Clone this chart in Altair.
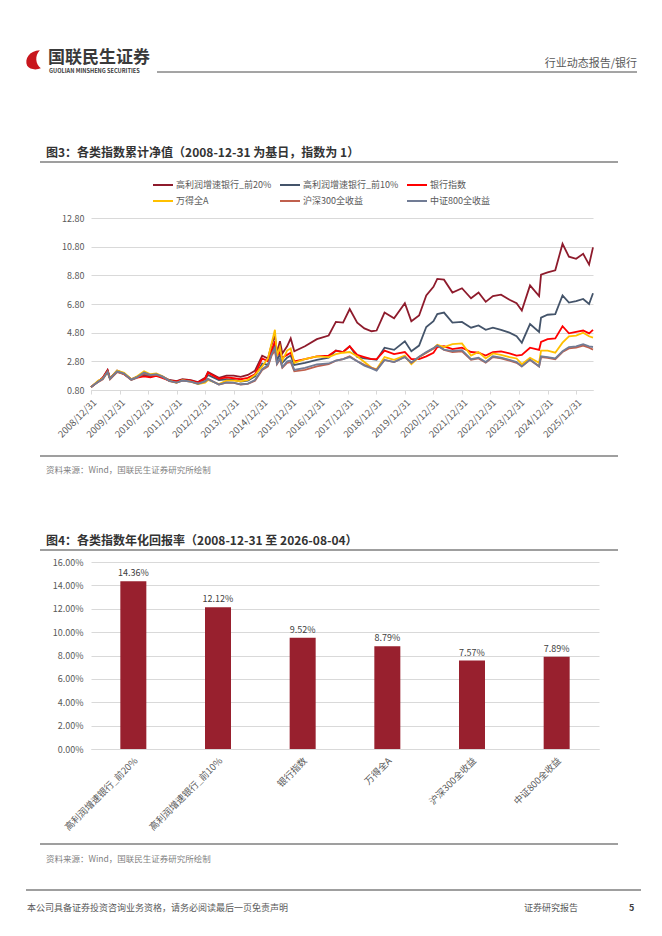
import altair as alt
import pandas as pd

FONT = "Noto Sans CJK SC"

# ---------------- data ----------------
series_names = ["高利润增速银行_前20%", "高利润增速银行_前10%", "银行指数",
                "万得全A", "沪深300全收益", "中证800全收益"]
series_colors = ["#8E1B2C", "#44546A", "#FF0000", "#FFC000", "#C0604D", "#717C95"]

dates = [
    "2008-12-31", "2009-03-31", "2009-05-31", "2009-07-31", "2009-08-31", "2009-11-30",
    "2010-02-28", "2010-05-31", "2010-07-31", "2010-11-10", "2011-01-31", "2011-04-15",
    "2011-06-30", "2011-09-30", "2011-12-31", "2012-03-15", "2012-06-30", "2012-09-30",
    "2012-12-31", "2013-02-05", "2013-06-25", "2013-09-30", "2013-12-31", "2014-03-31",
    "2014-06-30", "2014-09-30", "2014-12-31", "2015-03-15", "2015-04-30", "2015-06-12",
    "2015-07-08", "2015-08-15", "2015-09-15", "2015-11-15", "2015-12-31", "2016-02-15",
    "2016-06-30", "2016-11-30", "2017-04-30", "2017-07-31", "2017-10-31", "2018-01-24",
    "2018-04-30", "2018-07-31", "2018-10-31", "2019-01-03", "2019-04-15", "2019-08-15",
    "2019-12-31", "2020-03-23", "2020-06-30", "2020-09-30", "2020-12-31", "2021-02-18",
    "2021-05-15", "2021-08-31", "2021-12-31", "2022-04-26", "2022-07-31", "2022-10-31",
    "2023-01-31", "2023-05-15", "2023-08-31", "2023-11-30", "2024-02-05", "2024-05-20",
    "2024-09-13", "2024-10-08", "2024-12-31", "2025-04-08", "2025-07-10", "2025-09-30",
    "2025-12-31", "2026-03-31", "2026-06-15", "2026-08-04",
]

top20 = [1.00, 1.40, 1.65, 2.20, 1.62, 2.15, 1.95, 1.55, 1.70, 1.85, 1.75, 1.85,
         1.75, 1.50, 1.42, 1.55, 1.48, 1.35, 1.65, 2.05, 1.65, 1.80, 1.80, 1.72,
         1.85, 2.15, 3.20, 3.00, 3.95, 4.60, 3.40, 4.20, 3.35, 3.85, 4.40, 3.50,
         3.85, 4.35, 4.60, 5.55, 5.50, 6.45, 5.50, 5.10, 4.90, 4.95, 6.20, 5.80,
         6.85, 5.60, 6.00, 7.40, 8.00, 8.55, 8.50, 7.60, 7.90, 7.20, 7.60, 6.95,
         7.35, 7.45, 7.10, 6.85, 6.35, 8.10, 7.35, 8.85, 9.00, 9.15, 11.00, 10.10,
         9.95, 10.30, 9.55, 10.75]
top10 = [1.00, 1.38, 1.62, 2.15, 1.60, 2.12, 1.92, 1.52, 1.68, 1.85, 1.75, 1.85,
         1.72, 1.45, 1.38, 1.50, 1.42, 1.30, 1.55, 1.85, 1.50, 1.55, 1.50, 1.38,
         1.45, 1.75, 2.65, 2.55, 3.35, 3.90, 2.85, 3.30, 2.70, 3.05, 3.20, 2.55,
         2.70, 2.90, 3.05, 3.55, 3.45, 3.85, 3.10, 3.00, 2.95, 2.90, 3.75, 3.60,
         4.20, 3.50, 3.90, 5.20, 5.60, 6.10, 6.20, 5.50, 5.55, 5.15, 5.30, 5.00,
         5.15, 5.00, 4.80, 4.55, 4.10, 5.40, 4.85, 5.85, 6.05, 6.10, 7.40, 6.90,
         7.00, 7.15, 6.80, 7.55]
bank = [1.00, 1.40, 1.65, 2.15, 1.60, 2.10, 1.90, 1.55, 1.65, 1.75, 1.68, 1.78,
        1.65, 1.45, 1.40, 1.50, 1.45, 1.32, 1.60, 2.00, 1.58, 1.68, 1.62, 1.55,
        1.65, 1.90, 3.00, 2.80, 3.55, 4.20, 3.20, 3.45, 3.05, 3.25, 3.40, 2.80,
        2.95, 3.15, 3.20, 3.55, 3.45, 3.85, 3.25, 3.10, 2.95, 2.95, 3.55, 3.30,
        3.45, 2.95, 2.95, 3.15, 3.40, 3.80, 3.85, 3.65, 3.75, 3.45, 3.40, 3.20,
        3.45, 3.50, 3.35, 3.20, 3.25, 3.75, 3.60, 4.15, 4.35, 4.40, 5.25, 4.75,
        4.85, 4.95, 4.75, 5.00]
wind_a = [1.00, 1.45, 1.60, 2.05, 1.60, 2.15, 2.00, 1.55, 1.70, 2.10, 1.90, 1.95,
          1.78, 1.45, 1.30, 1.48, 1.38, 1.22, 1.32, 1.50, 1.22, 1.45, 1.45, 1.40,
          1.50, 1.85, 2.45, 3.00, 4.05, 5.00, 3.20, 3.80, 2.85, 3.55, 3.70, 2.70,
          2.95, 3.15, 3.10, 3.30, 3.40, 3.45, 3.15, 2.75, 2.35, 2.25, 3.10, 2.90,
          3.20, 2.60, 3.10, 3.40, 3.70, 3.95, 3.80, 4.00, 4.05, 3.20, 3.45, 3.00,
          3.35, 3.25, 3.10, 3.00, 2.60, 3.05, 2.70, 3.55, 3.55, 3.40, 4.10, 4.55,
          4.60, 4.80, 4.55, 4.45]
hs300 = [1.00, 1.35, 1.55, 2.05, 1.55, 2.05, 1.90, 1.50, 1.62, 1.95, 1.82, 1.85,
         1.72, 1.42, 1.32, 1.45, 1.38, 1.25, 1.42, 1.58, 1.18, 1.32, 1.30, 1.18,
         1.22, 1.45, 2.20, 2.45, 3.20, 3.55, 2.60, 2.95, 2.35, 2.70, 2.75, 2.10,
         2.20, 2.45, 2.60, 2.85, 2.95, 3.15, 2.80, 2.55, 2.35, 2.20, 2.90, 2.75,
         3.10, 2.70, 3.10, 3.40, 3.70, 3.90, 3.60, 3.45, 3.50, 2.90, 3.00, 2.70,
         3.10, 3.00, 2.85, 2.70, 2.45, 2.90, 2.45, 3.10, 3.05, 2.95, 3.45, 3.70,
         3.75, 3.90, 3.75, 3.62]
csi800 = [1.00, 1.38, 1.58, 2.08, 1.58, 2.10, 1.95, 1.52, 1.66, 2.02, 1.86, 1.90,
          1.75, 1.44, 1.32, 1.46, 1.38, 1.24, 1.40, 1.56, 1.18, 1.33, 1.32, 1.20,
          1.25, 1.50, 2.25, 2.55, 3.30, 3.75, 2.65, 3.00, 2.40, 2.80, 2.85, 2.20,
          2.35, 2.58, 2.65, 2.85, 2.95, 3.10, 2.80, 2.50, 2.30, 2.15, 2.90, 2.75,
          3.10, 2.72, 3.12, 3.45, 3.72, 3.90, 3.62, 3.52, 3.58, 2.95, 3.05, 2.75,
          3.15, 3.05, 2.90, 2.75, 2.45, 2.92, 2.45, 3.15, 3.10, 3.00, 3.50, 3.80,
          3.85, 4.00, 3.85, 3.80]

annual_ret = [14.36, 12.12, 9.52, 8.79, 7.57, 7.89]

nav_rows = []
for name, vals in zip(series_names, [top20, top10, bank, wind_a, hs300, csi800]):
    for d, v in zip(dates, vals):
        nav_rows.append({"date": d, "series": name, "value": v})
df_nav = pd.DataFrame(nav_rows)
df_nav["date"] = pd.to_datetime(df_nav["date"])

df_ret = pd.DataFrame({"name": series_names, "ret": annual_ret})

# page positions of the two plot areas (left, top)
LX, LY = 90, 217
BX, BY = 90, 561


def note(text, x, y, ox, oy, size=9, color="#595959", weight="normal", align="left"):
    return alt.Chart(pd.DataFrame({"t": [text]})).mark_text(
        align=align, baseline="alphabetic", fontSize=size, color=color,
        fontWeight=weight, font=FONT
    ).encode(x=alt.value(x - ox), y=alt.value(y - oy), text="t:N")


def hline(x1, x2, y, ox, oy, color="#404040", width=1.0):
    return alt.Chart(pd.DataFrame({"a": [0]})).mark_rule(color=color, strokeWidth=width).encode(
        x=alt.value(x1 - ox), x2=alt.value(x2 - ox), y=alt.value(y - oy))


logo_path = ("M0.6,-1 C-0.5,-0.95 -1,-0.1 -0.7,0.6 C-0.45,1 0.25,1.05 0.7,0.85 "
             "C0.15,0.45 0.05,-0.45 0.6,-1 Z")
logo = alt.Chart(pd.DataFrame({"a": [0]})).mark_point(
    shape=logo_path, filled=True, color="#C8161D", opacity=1, size=380
).encode(x=alt.value(33 - LX), y=alt.value(59 - LY))

# ---------------- figure 3: cumulative NAV ----------------
year_ticks = [alt.DateTime(year=y, month=12, date=31) for y in range(2008, 2026)]

lines = alt.Chart(df_nav).mark_line(strokeWidth=1.8).encode(
    x=alt.X("date:T", title=None,
            scale=alt.Scale(domain=[alt.DateTime(year=2008, month=12, date=31),
                                    alt.DateTime(year=2026, month=8, date=4)], nice=False),
            axis=alt.Axis(values=year_ticks, format="%Y/%m/%d", labelAngle=-45,
                          labelAlign="right", labelBaseline="top", labelOverlap=False,
                          grid=False, domainColor="#d9d9d9", tickColor="#d9d9d9",
                          tickSize=4, labelPadding=3, labelFontSize=9.5)),
    y=alt.Y("value:Q", title=None,
            scale=alt.Scale(domain=[0.8, 12.8], nice=False, zero=False),
            axis=alt.Axis(values=[0.8, 2.8, 4.8, 6.8, 8.8, 10.8, 12.8], format=".2f",
                          domain=False, ticks=False, gridColor="#d9d9d9",
                          labelPadding=7, labelFontSize=9)),
    color=alt.Color("series:N", sort=series_names,
                    scale=alt.Scale(domain=series_names, range=series_colors),
                    legend=alt.Legend(title=None, orient="none", legendX=61, legendY=-44,
                                      direction="horizontal", columns=3,
                                      symbolType="stroke", symbolSize=400,
                                      symbolStrokeWidth=2, labelFontSize=9,
                                      labelColor="#595959", labelFont=FONT,
                                      columnPadding=4, rowPadding=0, gridAlign="all",
                                      labelLimit=200, labelOffset=2)),
)

anchor = alt.Chart(pd.DataFrame({"a": [0]})).mark_rule(color="white", strokeWidth=1).encode(
    x=alt.value(8 - LX), x2=alt.value(9 - LX), y=alt.value(8 - LY))

top = alt.layer(
    anchor,
    logo,
    note("国联民生证券", 47, 61.5, LX, LY, size=17, color="#3A3A3A", weight="bold"),
    note("GUOLIAN MINSHENG SECURITIES", 48, 72, LX, LY, size=5.6, color="#3A3A3A", weight="bold"),
    hline(156, 636, 71, LX, LY, color="#4a4a4a"),
    note("行业动态报告/银行", 636, 66, LX, LY, size=11, color="#595959", align="right"),
    note("图3：各类指数累计净值（2008-12-31 为基日，指数为 1）", 45, 156, LX, LY,
         size=12, color="#333333", weight="bold"),
    hline(39, 617, 161, LX, LY, color="#404040", width=1.2),
    lines,
    hline(39, 617, 455, LX, LY, color="#404040", width=1.2),
    note("资料来源：Wind，国联民生证券研究所绘制", 45, 472, LX, LY, size=8.5, color="#7F7F7F"),
).properties(width=502, height=172)

# ---------------- figure 4: annualised return ----------------
bar_base = alt.Chart(df_ret).transform_calculate(
    label="format(datum.ret, '.2f') + '%'"
).encode(
    x=alt.X("name:N", sort=series_names, title=None,
            scale=alt.Scale(paddingInner=0, paddingOuter=0),
            axis=alt.Axis(labelAngle=-45, labelAlign="right", labelBaseline="top",
                          ticks=False, domainColor="#d9d9d9", labelPadding=7,
                          labelLimit=200, labelFontSize=9.3)),
    y=alt.Y("ret:Q", title=None, scale=alt.Scale(domain=[0, 16], nice=False),
            axis=alt.Axis(values=list(range(0, 17, 2)),
                          labelExpr="format(datum.value, '.2f') + '%'",
                          domain=False, ticks=False, gridColor="#d9d9d9",
                          labelPadding=8, labelFontSize=9)),
)
bars = bar_base.mark_bar(size=26, color="#98202E")
bar_labels = bar_base.mark_text(dy=-8, fontSize=9, color="#404040", font=FONT).encode(text="label:N")

bottom = alt.layer(
    note("图4：各类指数年化回报率（2008-12-31 至 2026-08-04）", 45, 544, BX, BY,
         size=12, color="#333333", weight="bold"),
    hline(39, 617, 549, BX, BY, color="#404040", width=1.2),
    bars,
    bar_labels,
    hline(39, 617, 843, BX, BY, color="#404040", width=1.2),
    note("资料来源：Wind，国联民生证券研究所绘制", 45, 860.5, BX, BY, size=8.5, color="#7F7F7F"),
    hline(25, 640, 889, BX, BY, color="#404040", width=1.2),
    note("本公司具备证券投资咨询业务资格，请务必阅读最后一页免责声明", 26, 909.5, BX, BY,
         size=9, color="#595959"),
    note("证券研究报告", 523, 909.5, BX, BY, size=9, color="#595959"),
    note("5", 628, 909.5, BX, BY, size=9, color="#404040", weight="bold"),
).properties(width=508, height=187)

chart = alt.vconcat(top, bottom, spacing=172, bounds="flush").properties(
    padding=0
).configure(font=FONT).configure_view(stroke="transparent").configure_axis(
    labelFont=FONT, labelColor="#595959"
)

chart.save("out.html", embed_options={"renderer": "svg", "actions": False})
